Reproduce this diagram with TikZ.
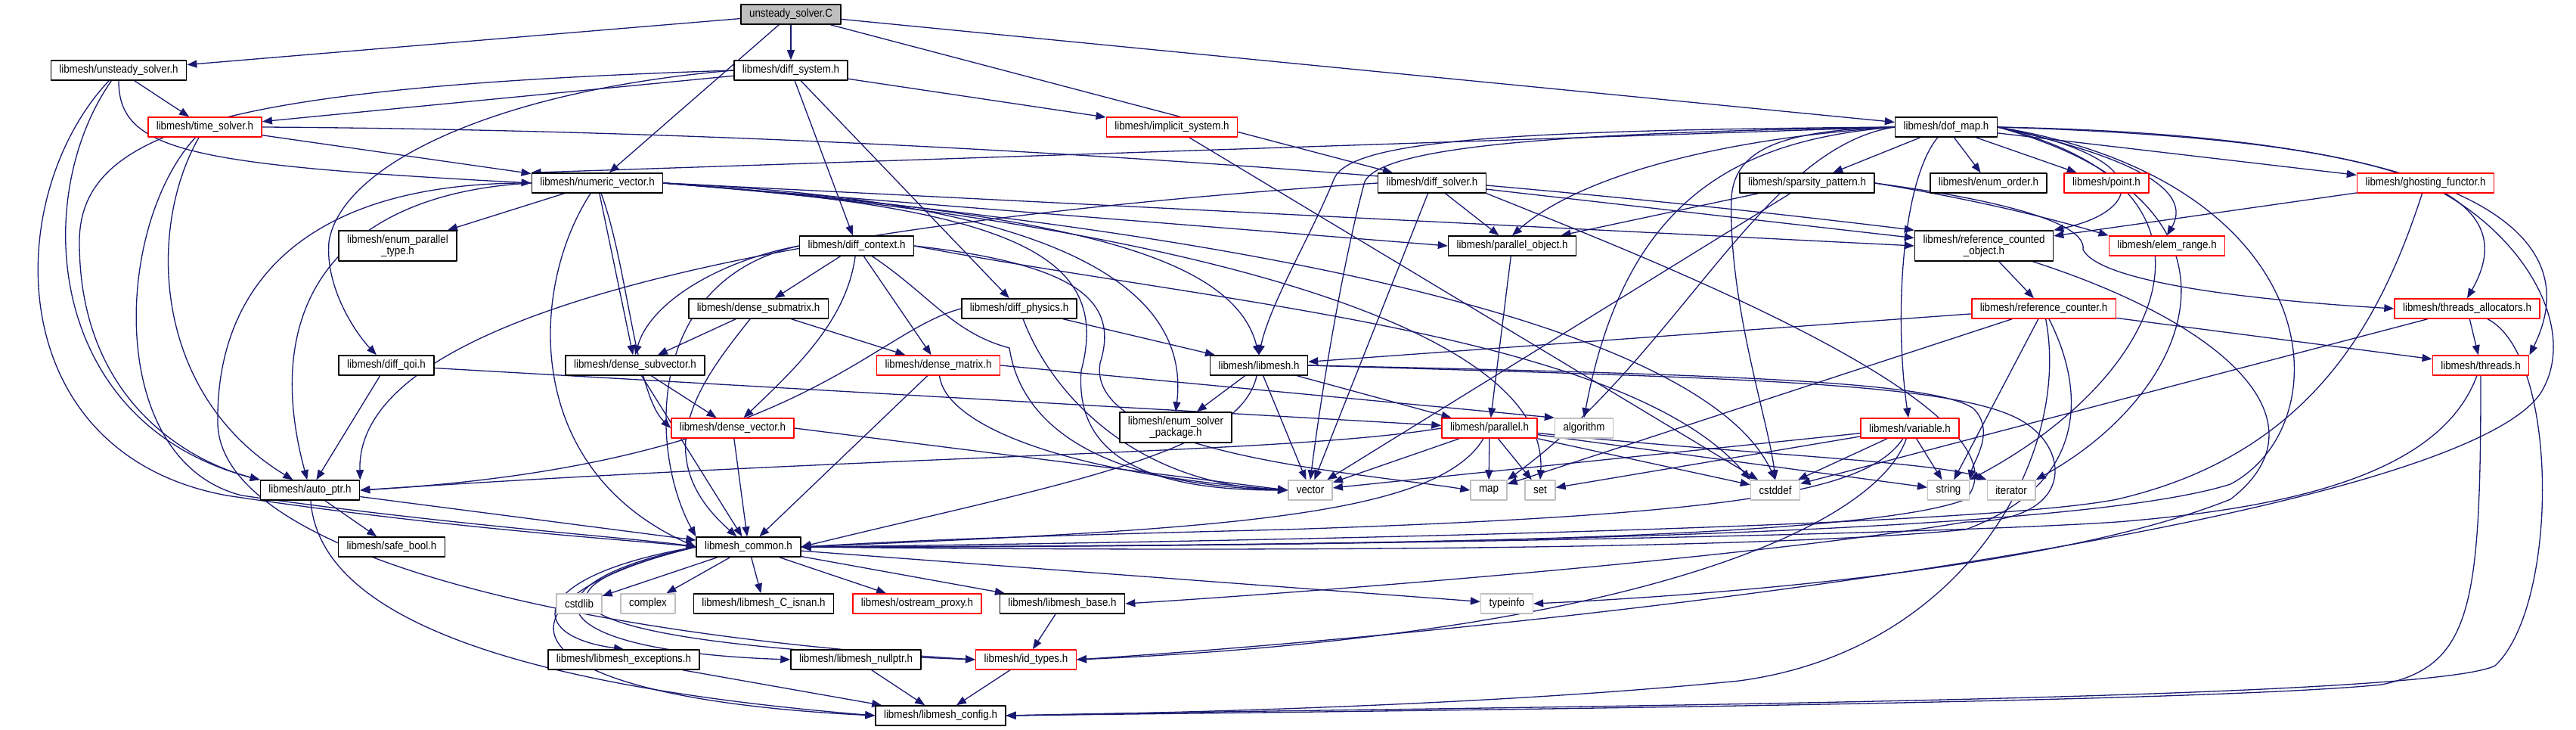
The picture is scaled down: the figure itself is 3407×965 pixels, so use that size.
\documentclass[tikz,border=0pt]{standalone}
\usepackage{fontspec}
\setmainfont{Liberation Sans}[FakeStretch=0.89]
\usetikzlibrary{arrows.meta,backgrounds}
\definecolor{depEdge}{RGB}{25,25,112}
\definecolor{truncBorder}{RGB}{255,0,0}
\definecolor{sysBorder}{RGB}{191,191,191}
\definecolor{rootFill}{RGB}{191,191,191}
\begin{document}
\begin{tikzpicture}[
  hdr/.style={rectangle, draw=black, fill=white, line width=1.5pt, inner xsep=11pt, inner ysep=0pt, minimum height=26pt, align=center, font=\fontsize{15}{15}\selectfont},
  trunchdr/.style={hdr, draw=truncBorder},
  syshdr/.style={hdr, draw=sysBorder},
  roothdr/.style={hdr, fill=rootFill},
  twoline/.style={minimum height=40pt},
  dep/.style={draw=depEdge, line width=1.3pt, -{Triangle[length=13pt,width=10pt]}}
]
% include graph, pixel grid of the export
\begin{scope}[x=1pt, y=-1pt, line join=round]
  \useasboundingbox (0,0) rectangle (3407,965);
  % Source file
  \node[roothdr] (root) at (1046,19) {unsteady\_solver.C};
  % Row 1
  \node[hdr] (usolh) at (157,93) {libmesh/unsteady\_solver.h};
  \node[hdr] (dsys) at (1046,93) {libmesh/diff\_system.h};
  % Row 2
  \node[trunchdr] (tsolver) at (271,168) {libmesh/time\_solver.h};
  \node[trunchdr] (implicit) at (1550,168) {libmesh/implicit\_system.h};
  \node[hdr] (dofmap) at (2574,168) {libmesh/dof\_map.h};
  % Row 3
  \node[hdr] (nvec) at (790,242) {libmesh/numeric\_vector.h};
  \node[hdr] (dsolver) at (1894,242) {libmesh/diff\_solver.h};
  \node[hdr] (sparsity) at (2390,242) {libmesh/sparsity\_pattern.h};
  \node[hdr] (eorder) at (2630,242) {libmesh/enum\_order.h};
  \node[trunchdr] (point) at (2786,242) {libmesh/point.h};
  \node[trunchdr] (ghost) at (3208,242) {libmesh/ghosting\_functor.h};
  % Row 4
  \node[hdr, twoline] (eptype) at (526,325) {libmesh/enum\_parallel\\\_type.h};
  \node[hdr] (dctx) at (1133,325) {libmesh/diff\_context.h};
  \node[hdr] (pobj) at (2000,325) {libmesh/parallel\_object.h};
  \node[hdr, twoline] (refobj) at (2624,325) {libmesh/reference\_counted\\\_object.h};
  \node[trunchdr] (erange) at (2866,325) {libmesh/elem\_range.h};
  % Row 5
  \node[hdr] (dsubmat) at (1003,408) {libmesh/dense\_submatrix.h};
  \node[hdr] (dphys) at (1348,408) {libmesh/diff\_physics.h};
  \node[trunchdr] (refcnt) at (2703,408) {libmesh/reference\_counter.h};
  \node[trunchdr] (talloc) at (3263,408) {libmesh/threads\_allocators.h};
  % Row 6
  \node[hdr] (dqoi) at (511,483) {libmesh/diff\_qoi.h};
  \node[hdr] (dsubvec) at (840,483) {libmesh/dense\_subvector.h};
  \node[trunchdr] (dmat) at (1241,483) {libmesh/dense\_matrix.h};
  \node[hdr] (lmh) at (1665,483) {libmesh/libmesh.h};
  \node[trunchdr] (threads) at (3281,483) {libmesh/threads.h};
  % Row 7
  \node[trunchdr] (dvec) at (969,566) {libmesh/dense\_vector.h};
  \node[hdr, twoline] (esolver) at (1555,565) {libmesh/enum\_solver\\\_package.h};
  \node[trunchdr] (parallel) at (1970,566) {libmesh/parallel.h};
  \node[syshdr] (algorithm) at (2095,566) {algorithm};
  \node[trunchdr] (variable) at (2526,566) {libmesh/variable.h};
  % Row 8
  \node[hdr] (autoptr) at (410,648) {libmesh/auto\_ptr.h};
  \node[syshdr] (vector) at (1733,648) {vector};
  \node[syshdr] (map) at (1969,648) {map};
  \node[syshdr] (set) at (2037,648) {set};
  \node[syshdr] (cstddef) at (2348,648) {cstddef};
  \node[syshdr] (string) at (2577,648) {string};
  \node[syshdr] (iterator) at (2660,648) {iterator};
  % Row 9
  \node[hdr] (safebool) at (518,723) {libmesh/safe\_bool.h};
  \node[hdr] (common) at (990,723) {libmesh\_common.h};
  % Row 10
  \node[syshdr] (cstdlib) at (766,798) {cstdlib};
  \node[syshdr] (complex) at (857,798) {complex};
  \node[hdr] (isnan) at (1010,798) {libmesh/libmesh\_C\_isnan.h};
  \node[trunchdr] (ostream) at (1213,798) {libmesh/ostream\_proxy.h};
  \node[hdr] (lbase) at (1405,798) {libmesh/libmesh\_base.h};
  \node[syshdr] (typeinfo) at (1993,798) {typeinfo};
  % Row 11
  \node[hdr] (exceptions) at (825,872) {libmesh/libmesh\_exceptions.h};
  \node[hdr] (nullptr) at (1132,872) {libmesh/libmesh\_nullptr.h};
  \node[trunchdr] (idtypes) at (1357,872) {libmesh/id\_types.h};
  % Row 12
  \node[hdr] (config) at (1244,946) {libmesh/libmesh\_config.h};

  % Include edges, kept behind the boxes
  \begin{pgfonlayer}{background}
  % unsteady_solver.C
  \draw[dep] (root) -- (usolh);
  \draw[dep] (root) -- (dsys);
  \draw[dep] (root) -- (nvec);
  \draw[dep] (root) -- (dsolver);
  \draw[dep] (root) -- (dofmap);
  % unsteady_solver.h
  \draw[dep] (usolh) -- (tsolver);
  \draw[dep] (usolh.south) .. controls (157,200) and (250,218) .. (nvec.west);
  \draw[dep] (usolh) .. controls (40,260) and (60,560) .. (autoptr.north west);
  \draw[dep] (usolh) .. controls (0,260) and (0,600) .. (300,655) .. controls (600,700) and (850,715) .. (common.west);
  % time_solver.h
  \draw[dep] (tsolver) -- (nvec);
  \draw[dep] (tsolver.east) .. controls (1000,172) and (1800,215) .. (refobj.north west);
  \draw[dep] (tsolver) .. controls (195,300) and (200,520) .. (autoptr);
  \draw[dep] (tsolver) .. controls (150,300) and (140,610) .. (320,655) .. controls (600,695) and (850,712) .. (common.west);
  % diff_system.h
  \draw[dep] (dsys) -- (tsolver);
  \draw[dep] (dsys.west) .. controls (300,115) and (105,170) .. (105,320) .. controls (105,530) and (250,610) .. (autoptr.north west);
  \draw[dep] (dsys.west) .. controls (650,120) and (450,220) .. (435,320) .. controls (430,380) and (470,440) .. (dqoi);
  \draw[dep] (dsys) -- (dctx);
  \draw[dep] (dsys) -- (dphys);
  \draw[dep] (dsys) -- (implicit);
  % implicit_system.h
  \draw[dep] (implicit) -- (cstddef);
  % numeric_vector.h
  \draw[dep] (nvec) -- (eptype);
  \draw[dep] (nvec.west) .. controls (460,255) and (340,390) .. (autoptr);
  \draw[dep] (nvec.west) .. controls (400,240) and (285,380) .. (288,560) .. controls (292,720) and (700,835) .. (idtypes.west);
  \draw[dep] (nvec) .. controls (700,380) and (690,620) .. (common.west);
  \draw[dep] (nvec) -- (dsubvec);
  \draw[dep] (nvec) .. controls (830,350) and (840,520) .. (dvec.west);
  \draw[dep] (nvec.east) .. controls (1400,265) and (1575,380) .. (esolver.north);
  \draw[dep] (nvec.east) .. controls (1380,280) and (1630,330) .. (lmh.north);
  \draw[dep] (nvec.east) -- (pobj.west);
  \draw[dep] (nvec.east) -- (refobj.west);
  \draw[dep] (nvec.east) .. controls (1500,290) and (2050,420) .. (set.north);
  \draw[dep] (nvec.east) .. controls (1600,300) and (2250,420) .. (cstddef.north);
  \draw[dep] (nvec.east) .. controls (1350,275) and (1470,340) .. (1430,490) .. controls (1420,620) and (1550,648) .. (vector.west);
  % diff_solver.h
  \draw[dep] (dsolver.west) .. controls (1100,290) and (470,400) .. (autoptr.north east);
  \draw[dep] (dsolver) -- (pobj);
  \draw[dep] (dsolver) -- (refobj);
  \draw[dep] (dsolver) -- (vector);
  \draw[dep] (dsolver.south east) .. controls (2150,330) and (2700,540) .. (2600,660) .. controls (2450,720) and (1600,722) .. (common.east);
  % dof_map.h
  \draw[dep] (dofmap.west) -- (nvec.north west);
  \draw[dep] (dofmap) -- (eorder);
  \draw[dep] (dofmap) -- (point);
  \draw[dep] (dofmap) -- (ghost);
  \draw[dep] (dofmap) -- (sparsity);
  \draw[dep] (dofmap.west) .. controls (2250,185) and (2080,240) .. (pobj.north);
  \draw[dep] (dofmap.west) .. controls (2000,172) and (1790,185) .. (1765,235) .. controls (1735,310) and (1680,400) .. (lmh.north);
  \draw[dep] (dofmap.west) .. controls (2100,175) and (1830,190) .. (1805,240) .. controls (1780,330) and (1750,500) .. (vector.north);
  \draw[dep] (dofmap.west) .. controls (2300,185) and (2150,260) .. (algorithm.north);
  \draw[dep] (dofmap.west) .. controls (2330,195) and (2220,470) .. (map.north east);
  \draw[dep] (dofmap.west) .. controls (2350,172) and (2295,200) .. (2290,260) .. controls (2285,400) and (2340,560) .. (cstddef.north);
  \draw[dep] (dofmap) .. controls (2515,240) and (2505,420) .. (variable);
  \draw[dep] (dofmap.east) .. controls (2860,210) and (2830,280) .. (refobj.north east);
  \draw[dep] (dofmap.east) .. controls (2880,220) and (2890,270) .. (erange.north);
  \draw[dep] (dofmap.east) .. controls (2980,250) and (2860,500) .. (string.north east);
  \draw[dep] (dofmap.east) .. controls (3010,270) and (2900,520) .. (iterator.north east);
  \draw[dep] (dofmap.east) .. controls (3080,240) and (3100,560) .. (2950,640) .. controls (2700,720) and (1500,722) .. (common.east);
  \draw[dep] (dofmap.east) .. controls (3200,185) and (3340,260) .. (talloc.north);
  \draw[dep] (dofmap.east) .. controls (3300,180) and (3420,320) .. (threads.north east);
  % sparsity_pattern.h
  \draw[dep] (sparsity) -- (pobj);
  \draw[dep] (sparsity) -- (vector);
  \draw[dep] (sparsity.east) .. controls (2650,270) and (2750,300) .. (erange.north west);
  \draw[dep] (sparsity.east) .. controls (2650,265) and (2760,295) .. (2755,330) .. controls (2775,370) and (2950,395) .. (talloc.west);
  % ghosting_functor.h
  \draw[dep] (ghost) -- (refobj);
  \draw[dep] (ghost) .. controls (3150,420) and (3060,600) .. (2800,660) .. controls (2600,700) and (1500,718) .. (common.east);
  \draw[dep] (ghost) .. controls (3345,320) and (3410,440) .. (3360,520) .. controls (3250,680) and (2200,820) .. (idtypes.east);
  % threads_allocators.h
  \draw[dep] (talloc) -- (threads);
  \draw[dep] (talloc) -- (cstddef);
  \draw[dep] (talloc) .. controls (3385,470) and (3385,800) .. (3300,880) .. controls (3200,930) and (1800,935) .. (config.east);
  % threads.h
  \draw[dep] (threads) .. controls (3230,620) and (3050,670) .. (2800,690) .. controls (2500,710) and (1500,725) .. (common.east);
  \draw[dep] (threads) .. controls (3281,800) and (3270,880) .. (3150,905) .. controls (2900,930) and (1800,940) .. (config.east);
  % reference_counted_object.h
  \draw[dep] (refobj) -- (refcnt);
  \draw[dep] (refobj) .. controls (2950,430) and (3080,560) .. (2950,660) .. controls (2700,760) and (2200,790) .. (typeinfo.east);
  % reference_counter.h
  \draw[dep] (refcnt) -- (lmh);
  \draw[dep] (refcnt) -- (map);
  \draw[dep] (refcnt) -- (string);
  \draw[dep] (refcnt) -- (threads);
  \draw[dep] (refcnt) .. controls (2760,520) and (2760,640) .. (2600,700) .. controls (2300,730) and (1500,728) .. (common.east);
  \draw[dep] (refcnt) .. controls (2740,600) and (2600,860) .. (2300,900) .. controls (2000,930) and (1600,942) .. (config.east);
  % variable.h
  \draw[dep] (variable) -- (vector);
  \draw[dep] (variable) -- (set);
  \draw[dep] (variable) -- (cstddef);
  \draw[dep] (variable) -- (string);
  \draw[dep] (variable) .. controls (2470,650) and (2300,680) .. (1700,700) .. controls (1300,710) and (1200,715) .. (common.east);
  \draw[dep] (variable) .. controls (2480,700) and (2150,840) .. (idtypes.east);
  % libmesh.h
  \draw[dep] (lmh) .. controls (1640,600) and (1400,640) .. (common.east);
  \draw[dep] (lmh) -- (esolver);
  \draw[dep] (lmh) -- (parallel);
  \draw[dep] (lmh) -- (vector);
  \draw[dep] (lmh.east) .. controls (2300,495) and (2560,505) .. (2610,540) .. controls (2640,570) and (2610,610) .. (string.north east);
  \draw[dep] (lmh.east) .. controls (2300,500) and (2600,505) .. (2680,560) .. controls (2740,600) and (2740,690) .. (2600,690) .. controls (2300,740) and (1700,785) .. (lbase.east);
  % parallel_object.h and parallel.h
  \draw[dep] (pobj) -- (parallel);
  \draw[dep] (parallel.west) .. controls (1700,600) and (1200,600) .. (autoptr.east);
  \draw[dep] (parallel) -- (vector);
  \draw[dep] (parallel) -- (map);
  \draw[dep] (parallel) -- (set);
  \draw[dep] (parallel) -- (cstddef);
  \draw[dep] (parallel) -- (string);
  \draw[dep] (parallel) .. controls (2300,600) and (2560,610) .. (iterator.north west);
  \draw[dep] (parallel) .. controls (1900,685) and (1600,700) .. (common.east);
  % diff_context.h
  \draw[dep] (dctx) -- (dsubmat);
  \draw[dep] (dctx.west) .. controls (950,345) and (860,400) .. (dsubvec.north);
  \draw[dep] (dctx) .. controls (1120,420) and (1060,480) .. (dvec);
  \draw[dep] (dctx) -- (dmat);
  \draw[dep] (dctx) .. controls (1230,390) and (1260,440) .. (1335,460) .. controls (1350,560) and (1450,640) .. (vector.west);
  \draw[dep] (dctx.east) .. controls (1430,350) and (1480,400) .. (1455,480) .. controls (1435,600) and (1800,625) .. (map.west);
  \draw[dep] (dctx.east) .. controls (1600,400) and (2150,440) .. (cstddef.north west);
  \draw[dep] (dctx.west) .. controls (850,370) and (860,600) .. (common.north west);
  % dense_submatrix.h, dense_subvector.h
  \draw[dep] (dsubmat) -- (dsubvec);
  \draw[dep] (dsubmat) -- (dmat);
  \draw[dep] (dsubmat) .. controls (930,500) and (850,600) .. (common);
  \draw[dep] (dsubvec) -- (dvec);
  \draw[dep] (dsubvec) -- (common);
  % diff_physics.h
  \draw[dep] (dphys.west) .. controls (1150,440) and (1050,615) .. (autoptr.east);
  \draw[dep] (dphys) -- (lmh);
  \draw[dep] (dphys) .. controls (1390,520) and (1500,640) .. (vector.west);
  % dense_matrix.h, dense_vector.h
  \draw[dep] (dmat) -- (common);
  \draw[dep] (dmat) .. controls (1250,560) and (1400,625) .. (vector.west);
  \draw[dep] (dmat.east) -- (algorithm.north west);
  \draw[dep] (dvec) -- (common);
  \draw[dep] (dvec.east) -- (vector.west);
  % diff_qoi.h
  \draw[dep] (dqoi) -- (autoptr);
  \draw[dep] (dqoi) -- (parallel);
  % auto_ptr.h
  \draw[dep] (autoptr) -- (safebool);
  \draw[dep] (autoptr) -- (common);
  \draw[dep] (autoptr) .. controls (420,790) and (600,900) .. (config.west);
  % libmesh_common.h
  \draw[dep] (common) -- (cstdlib);
  \draw[dep] (common) -- (complex);
  \draw[dep] (common) -- (isnan);
  \draw[dep] (common) -- (ostream);
  \draw[dep] (common) -- (lbase);
  \draw[dep] (common) -- (typeinfo);
  \draw[dep] (common.west) .. controls (700,760) and (690,840) .. (exceptions.north);
  \draw[dep] (common.west) .. controls (690,770) and (700,860) .. (nullptr.west);
  \draw[dep] (common.west) .. controls (680,780) and (700,850) .. (idtypes.west);
  \draw[dep] (common.west) .. controls (640,790) and (640,920) .. (config.west);
  % bottom rows
  \draw[dep] (exceptions) -- (config);
  \draw[dep] (nullptr) -- (config);
  \draw[dep] (idtypes) -- (config);
  \draw[dep] (lbase) -- (idtypes);
  \end{pgfonlayer}
\end{scope}
\end{tikzpicture}
\end{document}
